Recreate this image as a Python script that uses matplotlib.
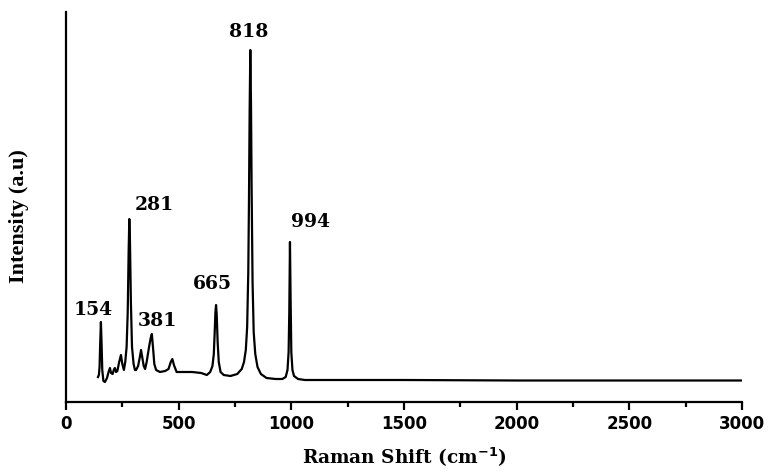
import matplotlib
matplotlib.use("Agg")
import matplotlib.pyplot as plt
from matplotlib.ticker import MultipleLocator

# Raman spectrum (arbitrary intensity units)
raman_shift = [
    142, 146, 149, 152, 155, 158, 161, 166, 173, 182, 189, 195, 200, 207,
    212, 217, 222, 228, 236, 244, 250, 257, 263, 269, 274, 278, 281, 284,
    288, 293, 300, 306, 311, 320, 327, 333, 339, 345, 351, 358, 365, 371,
    376, 381, 386, 392, 400, 417, 440, 455, 465, 472, 479, 491, 520, 560,
    600, 625, 640, 650, 656, 660, 663, 666, 669, 673, 678, 686, 700, 730,
    760, 780, 790, 798, 804, 809, 812, 815, 818, 821, 824, 828, 833, 840,
    850, 865, 890, 930, 960, 975, 983, 988, 991, 994, 997, 1000, 1005, 1012,
    1030, 1060, 1100, 1500, 2000, 2500, 3000,
]
intensity = [
    25, 27, 35, 60, 80, 58, 32, 21, 20, 24, 30, 34, 29, 28,
    32, 34, 30, 31, 40, 47, 38, 32, 40, 55, 90, 150, 183, 160,
    100, 55, 38, 32, 32, 36, 44, 52, 44, 36, 33, 40, 50, 58,
    64, 68, 55, 38, 32, 30, 31, 33, 40, 43, 37, 30, 30, 30,
    29, 27, 30, 36, 48, 70, 89, 97, 87, 60, 40, 30, 27, 26,
    28, 33, 40, 52, 75, 130, 200, 290, 352, 300, 210, 120, 70, 48,
    35, 28, 24, 23, 23, 25, 32, 50, 90, 160, 100, 50, 32, 26,
    23, 22, 22, 22, 21.5, 21.5, 21.5,
]

peak_labels = ["154", "281", "381", "665", "818", "994"]
label_x = [120, 393, 404, 650, 813, 1083]
label_y = [92, 197, 81, 118, 370, 180]

fig = plt.figure(figsize=(7.7, 4.72), dpi=100)
ax = fig.add_axes([0.0857, 0.1483, 0.8779, 0.8263])

ax.plot(raman_shift, intensity, color="black", linewidth=1.6)

for txt, x, y in zip(peak_labels, label_x, label_y):
    ax.text(x, y, txt, ha="center", va="center", fontsize=13.5,
            fontweight="bold", family="DejaVu Serif")

ax.set_xlim(0, 3000)
ax.set_ylim(0, 390)
ax.xaxis.set_major_locator(MultipleLocator(500))
ax.xaxis.set_minor_locator(MultipleLocator(250))
ax.set_yticks([])

for side in ["top", "right"]:
    ax.spines[side].set_visible(False)
for side in ["left", "bottom"]:
    ax.spines[side].set_linewidth(1.6)

ax.tick_params(axis="x", which="major", direction="out", length=6, width=1.6,
               pad=3)
ax.tick_params(axis="x", which="minor", direction="out", length=3.5, width=1.6)
for lbl in ax.get_xticklabels():
    lbl.set_family("DejaVu Sans")
    lbl.set_fontweight("bold")
    lbl.set_fontsize(12)

ax.set_xlabel("Raman Shift (cm$^{\\mathbf{-1}}$)", fontsize=13.3,
              fontweight="bold", family="DejaVu Serif", labelpad=9)
ax.set_ylabel("Intensity (a.u)", fontsize=16, fontweight="bold",
              family="Liberation Serif")
ax.yaxis.set_label_coords(-0.055, 0.477)

fig.savefig("out.png", dpi=100)
